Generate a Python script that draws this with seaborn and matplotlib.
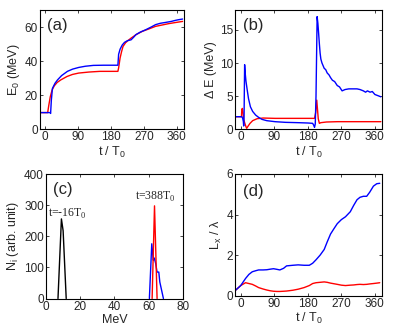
import matplotlib
matplotlib.use('Agg')
import matplotlib.pyplot as plt
import seaborn as sns
import numpy as np

# panel (a): peak energy E0 vs time
t_a_blue = [-14, 14, 15, 17, 20, 27, 34, 45, 61, 75, 92, 110, 132, 160, 199, 201, 205, 211, 217,
            225, 235, 242, 248, 260, 275, 290, 302, 315, 329, 345, 356, 365, 376]
e_a_blue = [9.8, 9.8, 9.3, 17, 24, 27, 29, 31.5, 34, 35.3, 36.3, 37, 37.5, 37.6, 37.6, 44, 47, 49.5, 51,
            52, 52.5, 54, 55.5, 57, 58.4, 60, 61.4, 62.2, 62.7, 63.3, 63.9, 64.3, 64.7]
t_a_red = [-14, 7, 10, 14, 19, 25, 33, 43, 60, 75, 92, 120, 150, 199, 201, 205, 209, 213, 220,
           228, 235, 250, 266, 285, 302, 320, 338, 355, 376]
e_a_red = [9.8, 9.8, 14, 19, 23, 25.5, 27.5, 29, 31, 32.2, 33, 33.6, 34, 34, 36, 41.8, 45.5, 48.6, 50.8,
           52.3, 53.5, 55.7, 57.5, 59, 60.4, 61.2, 62, 62.6, 63.3]

# panel (b): energy spread
t_b_blue = [-14, 3, 5, 7, 8, 9, 10.5, 12, 14, 17.5, 21, 26, 32, 40, 48, 57, 70, 92, 120, 154, 180,
            193, 196, 198, 200, 202, 205, 207, 209, 211, 213, 215, 218, 221, 224, 228, 232, 237,
            241, 246, 252, 259, 265, 272, 280, 290, 300, 312, 320, 329, 335, 340, 347, 353, 360,
            367, 376]
de_b_blue = [1.9, 1.9, 1.7, 1.2, 0.5, 2.0, 9.75, 8.5, 7.3, 5.9, 4.6, 3.4, 2.7, 2.15, 1.8, 1.5, 1.3,
             1.15, 1.05, 1.0, 0.95, 0.9, 0.6, 0.3, 0.8, 5, 17, 16, 14.5, 12.9, 11.5, 10.6, 10.0, 9.6,
             9.2, 9.0, 8.5, 8.2, 7.8, 7.4, 7.2, 6.6, 6.4, 5.8, 6.0, 6.1, 6.1, 6.1, 6.0, 5.8, 5.6, 5.8,
             5.6, 5.7, 5.25, 5.1, 4.9]
t_b_red = [-14, 2, 3, 4.5, 6, 8, 11, 14, 16, 20, 25, 32, 44, 60, 92, 150, 198, 201, 204, 206, 208,
           211, 215, 230, 260, 300, 376]
de_b_red = [1.9, 1.9, 3.0, 3.15, 2.6, 1.5, 0.9, 0.4, 0.15, 0.5, 0.9, 1.3, 1.6, 1.7, 1.65, 1.65, 1.65,
            2.5, 4.4, 3.0, 1.6, 0.9, 1.0, 1.1, 1.15, 1.15, 1.15]

# panel (c): ion spectra
e_c_black = [7.0, 9.0, 10.0, 11.8]
n_c_black = [0, 256, 218, 0]
e_c_red = [62.0, 63.4, 64.9]
n_c_red = [0, 298, 0]
e_c_blue = [60.4, 61.8, 62.7, 63.3, 64.1, 64.9, 65.9, 66.5, 68.6]
n_c_blue = [0, 176, 123, 130, 112, 85, 85, 53, 0]

# panel (d): Lx / lambda
t_d = [-15, 0, 13, 22, 31, 40, 48, 60, 70, 80, 88, 97, 105, 115, 123, 140, 154, 170, 184, 193, 202,
       213, 224, 232, 241, 250, 259, 270, 281, 294, 303, 312, 320, 329, 338, 346, 356, 365, 373]
lx_d_blue = [0.25, 0.5, 0.85, 1.05, 1.18, 1.23, 1.27, 1.27, 1.28, 1.31, 1.33, 1.3, 1.27, 1.35, 1.47,
             1.5, 1.52, 1.5, 1.5, 1.6, 1.77, 2.0, 2.28, 2.65, 3.04, 3.3, 3.55, 3.75, 3.89, 4.14, 4.45,
             4.73, 4.85, 4.9, 4.9, 5.1, 5.4, 5.52, 5.54]
lx_d_red = [0.25, 0.5, 0.64, 0.6, 0.56, 0.48, 0.4, 0.33, 0.28, 0.24, 0.22, 0.21, 0.21, 0.22, 0.23,
            0.27, 0.32, 0.4, 0.5, 0.6, 0.64, 0.66, 0.68, 0.66, 0.62, 0.59, 0.56, 0.52, 0.5, 0.52, 0.53,
            0.55, 0.56, 0.55, 0.56, 0.58, 0.6, 0.62, 0.64]

t_ticks = [0, 90, 180, 270, 360]
t_lim = (-14, 380)

sns.set_theme(style='ticks')
plt.rcParams['font.family'] = ['Liberation Sans', 'DejaVu Sans']
plt.rcParams['xtick.direction'] = 'in'
plt.rcParams['ytick.direction'] = 'in'
plt.rcParams['xtick.major.size'] = 2.5
plt.rcParams['ytick.major.size'] = 2.5
plt.rcParams['axes.linewidth'] = 0.8
plt.rcParams['axes.edgecolor'] = 'black'

fig = plt.figure(figsize=(3.98, 3.29), dpi=100)
ax_a = fig.add_axes([0.1005, 0.607, 0.362, 0.3626])
ax_b = fig.add_axes([0.5917, 0.607, 0.369, 0.3626])
ax_c = fig.add_axes([0.1156, 0.0927, 0.344, 0.378])
ax_d = fig.add_axes([0.5917, 0.1012, 0.369, 0.370])


def line(ax, x, y, color):
    sns.lineplot(x=x, y=y, color=color, ax=ax, sort=False, estimator=None, lw=1.0)


def style(ax, label, lx=0.05, ly=0.87):
    ax.tick_params(top=True, right=True, labelsize=8.5, pad=1.5, width=0.6)
    ax.text(lx, ly, label, transform=ax.transAxes, va='center', ha='left', fontsize=12)


line(ax_a, t_a_red, e_a_red, 'red')
line(ax_a, t_a_blue, e_a_blue, 'blue')
ax_a.set_xlim(*t_lim)
ax_a.set_ylim(0, 70)
ax_a.set_xticks(t_ticks)
ax_a.set_yticks([0, 20, 40, 60])
ax_a.set_xlabel('t / T$_\\mathregular{0}$', fontsize=9, labelpad=1)
ax_a.set_ylabel('E$_\\mathregular{0}$ (MeV)', fontsize=9, labelpad=2)
style(ax_a, '(a)')

line(ax_b, t_b_red, de_b_red, 'red')
line(ax_b, t_b_blue, de_b_blue, 'blue')
ax_b.set_xlim(*t_lim)
ax_b.set_ylim(0, 18)
ax_b.set_xticks(t_ticks)
ax_b.set_yticks([0, 5, 10, 15])
ax_b.set_xlabel('t / T$_\\mathregular{0}$', fontsize=9, labelpad=1)
ax_b.set_ylabel('\u0394 E (MeV)', fontsize=9, labelpad=2)
style(ax_b, '(b)')

line(ax_c, e_c_black, n_c_black, 'black')
line(ax_c, e_c_blue, n_c_blue, 'blue')
line(ax_c, e_c_red, n_c_red, 'red')
ax_c.set_xlim(0, 80)
ax_c.set_ylim(0, 400)
ax_c.set_xticks([0, 20, 40, 60, 80])
ax_c.set_yticks([0, 100, 200, 300, 400])
ax_c.set_xlabel('MeV', fontsize=9, labelpad=1)
ax_c.set_ylabel('N$_\\mathregular{i}$ (arb. unit)', fontsize=9, labelpad=2)
style(ax_c, '(c)', ly=0.875)
serif = ['Liberation Serif', 'DejaVu Serif']
ax_c.text(1, 271, 't=-16T$_\\mathregular{0}$', family=serif, fontsize=8.5, va='center')
ax_c.text(52, 326, 't=388T$_\\mathregular{0}$', family=serif, fontsize=8.5, va='center')

line(ax_d, t_d, lx_d_red, 'red')
line(ax_d, t_d, lx_d_blue, 'blue')
ax_d.set_xlim(*t_lim)
ax_d.set_ylim(0, 6)
ax_d.set_xticks(t_ticks)
ax_d.set_yticks([0, 2, 4, 6])
ax_d.set_xlabel('t / T$_\\mathregular{0}$', fontsize=9, labelpad=1)
ax_d.set_ylabel('L$_\\mathregular{x}$ / \u03bb', fontsize=9, labelpad=2)
style(ax_d, '(d)', ly=0.857)

fig.savefig('out.png', dpi=100)
